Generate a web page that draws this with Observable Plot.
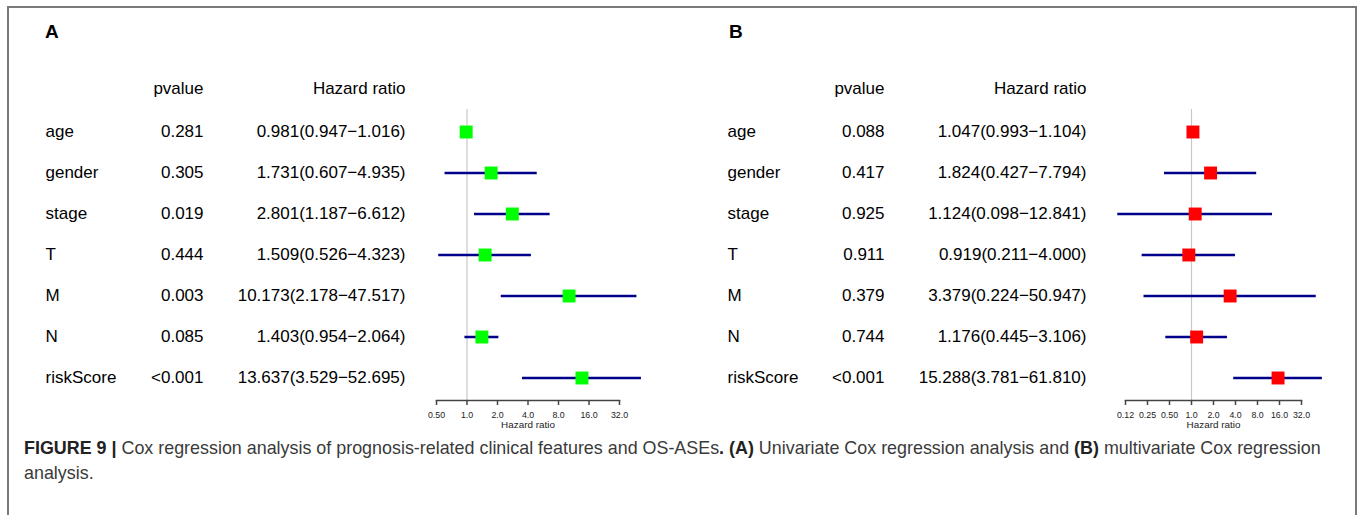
<!DOCTYPE html>
<html>
<head>
<meta charset="utf-8">
<script src="https://cdn.jsdelivr.net/npm/d3@7"></script>
<script src="https://cdn.jsdelivr.net/npm/@observablehq/plot@0.6"></script>
<style>
  html, body { margin: 0; padding: 0; background: #fff; }
  #fig { position: relative; width: 1357px; height: 515px; overflow: hidden; font-family: "Liberation Sans", Arial, sans-serif; }
  #border { position: absolute; left: 7px; top: 6px; width: 1346px; height: 560px; border: 2px solid #7a7a7a; border-bottom: none; }
  .panel { position: absolute; top: 0; }
  .plabel { position: absolute; top: 21px; font-weight: bold; font-size: 19px; color: #000; }
  #caption { position: absolute; left: 24px; top: 436px; font-size: 17.9px; line-height: 25px; color: #3a3a3a; white-space: nowrap; }
  #caption b { color: #222; }
</style>
</head>
<body>
<div id="fig">
  <div id="border"></div>
  <div class="plabel" style="left:45px">A</div>
  <div class="plabel" style="left:729px">B</div>
  <div id="panelA" class="panel" style="left:0px"></div>
  <div id="panelB" class="panel" style="left:680px"></div>
  <div id="caption"><b>FIGURE 9 |</b> Cox regression analysis of prognosis-related clinical features and OS-ASEs<b>. (A)</b> Univariate Cox regression analysis and <b>(B)</b> multivariate Cox regression<br>analysis.</div>
</div>
<script>
// ---- Data ----
const variables = ["age", "gender", "stage", "T", "M", "N", "riskScore"];

// Panel A: univariate
const pvalA = ["0.281", "0.305", "0.019", "0.444", "0.003", "0.085", "<0.001"];
const hrA   = [0.981, 1.731, 2.801, 1.509, 10.173, 1.403, 13.637];
const loA   = [0.947, 0.607, 1.187, 0.526, 2.178, 0.954, 3.529];
const hiA   = [1.016, 4.935, 6.612, 4.323, 47.517, 2.064, 52.695];

// Panel B: multivariate
const pvalB = ["0.088", "0.417", "0.925", "0.911", "0.379", "0.744", "<0.001"];
const hrB   = [1.047, 1.824, 1.124, 0.919, 3.379, 1.176, 15.288];
const loB   = [0.993, 0.427, 0.098, 0.211, 0.224, 0.445, 3.781];
const hiB   = [1.104, 7.794, 12.841, 4.000, 50.947, 3.106, 61.810];

// Axis ticks
const ticksA = [0.5, 1, 2, 4, 8, 16, 32];
const tickLabelsA = ["0.50", "1.0", "2.0", "4.0", "8.0", "16.0", "32.0"];
const ticksB = [0.125, 0.25, 0.5, 1, 2, 4, 8, 16, 32];
const tickLabelsB = ["0.12", "0.25", "0.50", "1.0", "2.0", "4.0", "8.0", "16.0", "32.0"];

function table(pv, hr, lo, hi) {
  return variables.map((v, i) => ({
    name: v, p: pv[i], hr: hr[i], lo: lo[i], hi: hi[i],
    label: `${hr[i].toFixed(3)}(${lo[i].toFixed(3)}\u2212${hi[i].toFixed(3)})`
  }));
}

function forest(data, opts) {
  const fs = 17;
  return Plot.plot({
    width: opts.width,
    height: 440,
    marginLeft: opts.ml,
    marginRight: opts.mr,
    marginTop: 109,
    marginBottom: 40,
    style: { fontFamily: '"Liberation Sans", Arial, sans-serif', color: "#000", background: "transparent", overflow: "visible" },
    x: { type: "log", base: 2, domain: opts.domain },
    y: { type: "band", domain: variables, padding: 0, axis: null },
    marks: [
      Plot.ruleX([1], { stroke: "#c8c8c8", strokeWidth: 1.2 }),
      Plot.ruleY(data, { y: "name", x1: "lo", x2: "hi", stroke: "#00008b", strokeWidth: 2.6 }),
      Plot.dot(data, { x: "hr", y: "name", symbol: "square", r: 7.3, fill: opts.color, stroke: null }),
      Plot.frame({ anchor: "bottom", stroke: "#444", strokeWidth: 1.5 }),
      Plot.axisX({ ticks: opts.ticks, tickFormat: d => opts.labels[opts.ticks.indexOf(d)], tickSize: 5, tickPadding: 6, fontSize: 8.8, label: null, stroke: "#444", strokeWidth: 1.5, fill: "#222" }),
      Plot.text(["Hazard ratio"], { frameAnchor: "bottom", dy: 27, fontSize: 9.9, fill: "#222" }),
      // table columns
      Plot.text(data, { y: "name", text: "name", frameAnchor: "left", dx: opts.dxName, textAnchor: "start", fontSize: fs }),
      Plot.text(data, { y: "name", text: "p", frameAnchor: "left", dx: opts.dxP, textAnchor: "end", fontSize: fs }),
      Plot.text(data, { y: "name", text: "label", frameAnchor: "left", dx: opts.dxHR, textAnchor: "end", fontSize: fs }),
      Plot.text(["pvalue"], { frameAnchor: "top-left", dx: opts.dxP, dy: -21, textAnchor: "end", lineAnchor: "middle", fontSize: fs }),
      Plot.text(["Hazard ratio"], { frameAnchor: "top-left", dx: opts.dxHR, dy: -21, textAnchor: "end", lineAnchor: "middle", fontSize: fs })
    ]
  });
}

document.getElementById("panelA").append(forest(table(pvalA, hrA, loA, hiA), {
  width: 680, ml: 436, mr: 61, domain: [0.5, 32], ticks: ticksA, labels: tickLabelsA,
  color: "#00ff00", dxName: -391, dxP: -233, dxHR: -31
}));
document.getElementById("panelB").append(forest(table(pvalB, hrB, loB, hiB), {
  width: 677, ml: 445, mr: 56, domain: [0.125, 32], ticks: ticksB, labels: tickLabelsB,
  color: "#ff0000", dxName: -398, dxP: -241, dxHR: -39
}));
</script>
</body>
</html>
